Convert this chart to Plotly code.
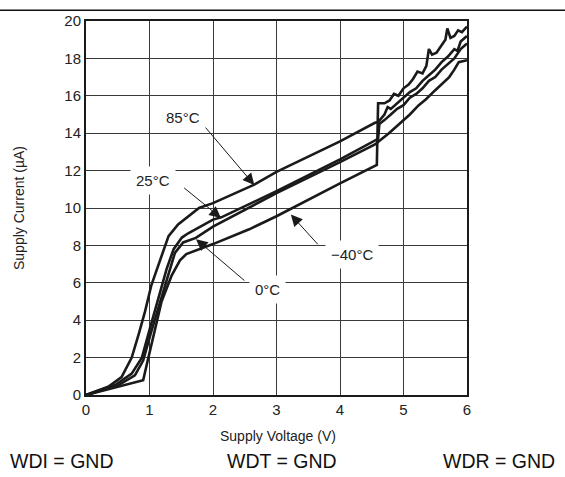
import plotly.graph_objects as go

# ---- data ----
v_85 = [0, 0.35, 0.56, 0.72, 0.83, 0.93, 1.03, 1.17, 1.30, 1.45, 1.61, 1.78, 2.0, 2.65, 3.0, 4.0, 4.55,
        4.6, 4.7, 4.75, 4.8, 4.9, 5.0, 5.1, 5.2, 5.3, 5.4, 5.5, 5.6, 5.7, 5.8, 5.85, 5.9, 6.0]
i_85 = [0, 0.44, 0.96, 2.0, 3.25, 4.47, 5.88, 7.28, 8.5, 9.12, 9.56, 10.0, 10.26, 11.25, 11.93, 13.56, 14.56,
        14.6, 15.0, 15.4, 15.3, 15.6, 15.9, 16.2, 16.4, 16.8, 17.1, 17.4, 17.8, 18.1, 18.5, 18.4, 18.9, 19.2]

v_25 = [0, 0.46, 0.72, 0.88, 1.01, 1.14, 1.27, 1.38, 1.51, 1.61, 1.78, 2.0, 2.13, 3.0, 4.0, 4.55,
        4.6, 4.62, 4.7, 4.8, 4.9, 5.0, 5.1, 5.2, 5.3, 5.4, 5.5, 5.6, 5.7, 5.8, 5.9, 6.0]
i_25 = [0, 0.53, 1.14, 2.0, 3.6, 5.17, 6.75, 7.8, 8.42, 8.65, 8.95, 9.38, 9.5, 10.9, 12.6, 13.6,
        13.7, 14.5, 14.7, 15.0, 15.3, 15.5, 15.9, 16.1, 16.4, 16.8, 17.0, 17.4, 17.7, 18.0, 18.5, 18.8]

v_0 = [0, 0.5, 0.77, 0.9, 1.03, 1.17, 1.3, 1.4, 1.53, 1.61, 1.73, 2.0, 3.0, 4.0, 4.55,
       4.77, 4.98, 5.1, 5.24, 5.35, 5.5, 5.6, 5.72, 5.8, 5.87, 6.0]
i_0 = [0, 0.5, 1.05, 1.84, 3.42, 5.0, 6.5, 7.6, 8.16, 8.25, 8.4, 9.0, 10.8, 12.45, 13.4,
       14.0, 14.65, 15.0, 15.5, 15.8, 16.3, 16.6, 17.0, 17.4, 17.8, 17.9]

v_m40 = [0, 0.9, 0.96, 1.09, 1.19, 1.35, 1.48, 1.58, 1.78, 2.0, 2.57, 3.0, 4.0, 4.58, 4.6,
         4.7, 4.78, 4.85, 4.92, 5.0, 5.08, 5.15, 5.22, 5.3, 5.36, 5.4, 5.45, 5.52, 5.6, 5.66, 5.69,
         5.74, 5.8, 5.86, 5.92, 6.0]
i_m40 = [0, 0.79, 1.67, 3.6, 5.0, 6.4, 7.2, 7.54, 7.8, 8.07, 8.86, 9.56, 11.32, 12.3, 15.6,
         15.6, 15.75, 16.1, 16.0, 16.4, 16.6, 16.9, 17.3, 17.2, 17.6, 18.5, 18.2, 18.3, 18.7, 19.0, 19.6,
         19.1, 19.2, 19.5, 19.4, 19.7]

series = [("85°C", v_85, i_85), ("25°C", v_25, i_25), ("0°C", v_0, i_0), ("−40°C", v_m40, i_m40)]

x_ticks = [0, 1, 2, 3, 4, 5, 6]
y_ticks = [0, 2, 4, 6, 8, 10, 12, 14, 16, 18, 20]

FONT = "Liberation Sans, Arial, sans-serif"
W, H = 565, 477
L, R, T, B = 86, 98, 15, 82
pw, ph = W - L - R, H - T - B

fig = go.Figure()
for name, vx, iy in series:
    fig.add_trace(go.Scatter(x=vx, y=iy, mode="lines", name=name,
                             line=dict(color="#1a1a1a", width=2.6), showlegend=False,
                             hoverinfo="skip"))

axis_common = dict(showgrid=True, gridcolor="#3a3a3a", gridwidth=1, showline=True, mirror=True,
                   linecolor="#1a1a1a", linewidth=2, ticks="", zeroline=False,
                   tickfont=dict(family=FONT, size=15, color="#222"))
fig.update_xaxes(range=[0, 6], tickvals=x_ticks, ticktext=[str(t) for t in x_ticks], **axis_common)
fig.update_yaxes(range=[0, 20], tickvals=y_ticks, ticktext=[str(t) for t in y_ticks], **axis_common)

annotations = []
labels = [("85°C", 1.52, 14.83), ("25°C", 1.05, 11.46), ("0°C", 2.86, 5.62), ("−40°C", 4.19, 7.49)]
for txt, lx, ly in labels:
    annotations.append(dict(x=lx, y=ly, xref="x", yref="y", text=txt, showarrow=False,
                            xanchor="center", yanchor="middle",
                            font=dict(family=FONT, size=15, color="#222"),
                            bgcolor="white", borderpad=5))
arrows = [((1.863, 14.38), (2.65, 11.23)), ((1.522, 11.14), (2.126, 9.47)),
          ((2.519, 6.05), (1.733, 8.33)), ((3.671, 7.98), (3.226, 9.65))]
for (tx, ty), (hx, hy) in arrows:
    annotations.append(dict(x=hx, y=hy, ax=tx, ay=ty, xref="x", yref="y", axref="x", ayref="y",
                            text="", showarrow=True, arrowhead=2, arrowsize=2.3, arrowwidth=1,
                            arrowcolor="#1a1a1a", standoff=0))
annotations.append(dict(x=(278 - L) / pw, y=(T + ph - 437) / ph, xref="paper", yref="paper",
                        xanchor="center", yanchor="middle",
                        text="Supply Voltage (V)", showarrow=False,
                        font=dict(family=FONT, size=14, color="#222")))
annotations.append(dict(x=(19 - L) / pw, y=(T + ph - 205) / ph, xref="paper", yref="paper",
                        xanchor="center", yanchor="middle",
                        text="Supply Current (µA)", showarrow=False, textangle=-90,
                        font=dict(family=FONT, size=14, color="#222")))
cond_font = dict(family=FONT, size=19.5, color="#111")
yb = (T + ph - 462) / ph
annotations.append(dict(x=(8 - L) / pw, y=yb, xref="paper", yref="paper", xanchor="left",
                        yanchor="middle", text="WDI = GND", showarrow=False, font=cond_font))
annotations.append(dict(x=(282 - L) / pw, y=yb, xref="paper", yref="paper", xanchor="center",
                        yanchor="middle", text="WDT = GND", showarrow=False, font=cond_font))
annotations.append(dict(x=(557 - L) / pw, y=yb, xref="paper", yref="paper", xanchor="right",
                        yanchor="middle", text="WDR = GND", showarrow=False, font=cond_font))

shapes = [dict(type="line", xref="paper", yref="paper", x0=-L / pw, x1=(W - L) / pw,
               y0=(T + ph - 4) / ph, y1=(T + ph - 4) / ph, line=dict(color="#111", width=1.5))]

fig.update_layout(width=W, height=H, margin=dict(l=L, r=R, t=T, b=B),
                  paper_bgcolor="white", plot_bgcolor="white",
                  annotations=annotations, shapes=shapes,
                  font=dict(family=FONT), hovermode=False)

fig.write_html("out.html", config={"displayModeBar": False, "staticPlot": True},
               post_script="document.body.style.margin='0';document.body.style.padding='0';"
                           "document.documentElement.style.overflow='hidden';")
